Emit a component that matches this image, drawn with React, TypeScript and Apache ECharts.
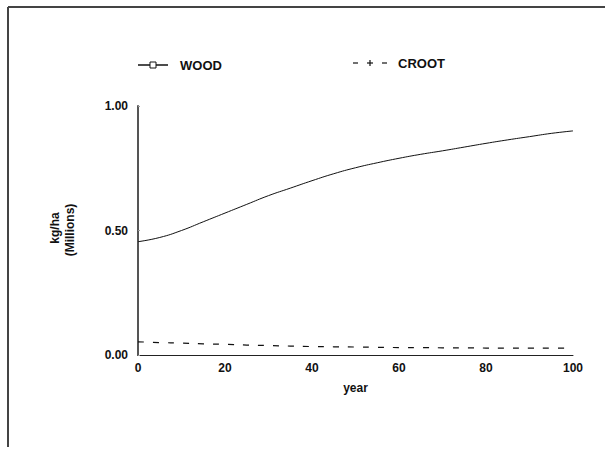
import React, { useEffect, useRef } from "react";
import * as echarts from "echarts";

const years = [0, 5, 10, 15, 20, 25, 30, 35, 40, 45, 50, 55, 60, 65, 70, 75, 80, 85, 90, 95, 100];
const wood = [0.455, 0.472, 0.5, 0.535, 0.57, 0.605, 0.64, 0.67, 0.7, 0.728, 0.752, 0.772, 0.79, 0.806, 0.82, 0.835, 0.85, 0.864, 0.877, 0.89, 0.9];
const croot = [0.053, 0.05, 0.048, 0.045, 0.043, 0.04, 0.038, 0.036, 0.034, 0.033, 0.032, 0.031, 0.03, 0.03, 0.029, 0.029, 0.028, 0.028, 0.028, 0.028, 0.028];
const xTicks = [0, 20, 40, 60, 80, 100];
const yTicks = [0, 0.5, 1.0];

const FONT = '"Liberation Sans", Arial, sans-serif';

export default function App() {
  const ref = useRef<HTMLDivElement>(null);
  useEffect(() => {
    if (!ref.current) return;
    const chart = echarts.init(ref.current, null, { renderer: "svg" });
    chart.setOption({
      animation: false,
      backgroundColor: "#ffffff",
      grid: { left: 138, right: 32, top: 106, bottom: 101 },
      xAxis: {
        type: "value",
        min: xTicks[0],
        max: xTicks[xTicks.length - 1],
        interval: 20,
        name: "year",
        nameLocation: "middle",
        nameGap: 27,
        nameTextStyle: { fontFamily: FONT, fontWeight: "bold", fontSize: 12, color: "#111" },
        axisLine: { show: true, lineStyle: { color: "#222", width: 1 } },
        axisTick: { show: false },
        splitLine: { show: false },
        axisLabel: { fontFamily: FONT, fontWeight: "bold", fontSize: 12, color: "#111", margin: 7 },
      },
      yAxis: {
        type: "value",
        min: yTicks[0],
        max: yTicks[yTicks.length - 1],
        interval: 0.5,
        axisLine: { show: true, lineStyle: { color: "#555", width: 2 } },
        axisTick: { show: true, inside: true, length: 2, lineStyle: { color: "#999" } },
        splitLine: { show: false },
        axisLabel: {
          fontFamily: FONT,
          fontWeight: "bold",
          fontSize: 12,
          color: "#111",
          margin: 10,
          formatter: (v: number) => v.toFixed(2),
        },
      },
      series: [
        {
          name: "WOOD",
          type: "line",
          data: years.map((y, i) => [y, wood[i]]),
          showSymbol: false,
          smooth: true,
          lineStyle: { color: "#111", width: 1 },
        },
        {
          name: "CROOT",
          type: "line",
          data: years.map((y, i) => [y, croot[i]]),
          showSymbol: false,
          smooth: true,
          lineStyle: { color: "#111", width: 1.2, type: [6, 9] },
        },
      ],
      graphic: [
        { type: "line", shape: { x1: 8, y1: 7, x2: 605, y2: 7 }, style: { stroke: "#444", lineWidth: 2 } },
        { type: "line", shape: { x1: 8, y1: 7, x2: 8, y2: 447 }, style: { stroke: "#444", lineWidth: 2 } },
        { type: "line", shape: { x1: 138, y1: 65, x2: 168, y2: 65 }, style: { stroke: "#111", lineWidth: 1.5 } },
        { type: "rect", shape: { x: 150, y: 62, width: 6, height: 6 }, style: { fill: "#fff", stroke: "#111", lineWidth: 1 } },
        { type: "text", x: 180, y: 65, style: { text: "WOOD", font: `bold 13px ${FONT}`, fill: "#111", textVerticalAlign: "middle" } },
        { type: "line", shape: { x1: 353, y1: 63, x2: 358, y2: 63 }, style: { stroke: "#111", lineWidth: 1.2 } },
        { type: "line", shape: { x1: 367, y1: 63, x2: 373, y2: 63 }, style: { stroke: "#111", lineWidth: 1.2 } },
        { type: "line", shape: { x1: 370, y1: 60, x2: 370, y2: 66 }, style: { stroke: "#111", lineWidth: 1.2 } },
        { type: "line", shape: { x1: 382, y1: 63, x2: 387, y2: 63 }, style: { stroke: "#111", lineWidth: 1.2 } },
        { type: "text", x: 398, y: 63, style: { text: "CROOT", font: `bold 13px ${FONT}`, fill: "#111", textVerticalAlign: "middle" } },
        { type: "text", x: 55, y: 228, rotation: Math.PI / 2, style: { text: "kg/ha", font: `bold 12px ${FONT}`, fill: "#111", textAlign: "center", textVerticalAlign: "middle" } },
        { type: "text", x: 70, y: 230, rotation: Math.PI / 2, style: { text: "(Millions)", font: `bold 12px ${FONT}`, fill: "#111", textAlign: "center", textVerticalAlign: "middle" } },
      ],
    });
    return () => chart.dispose();
  }, []);
  return (
    <div
      ref={ref}
      style={{ position: "fixed", left: 0, top: 0, width: 605, height: 456, background: "#fff" }}
    />
  );
}
